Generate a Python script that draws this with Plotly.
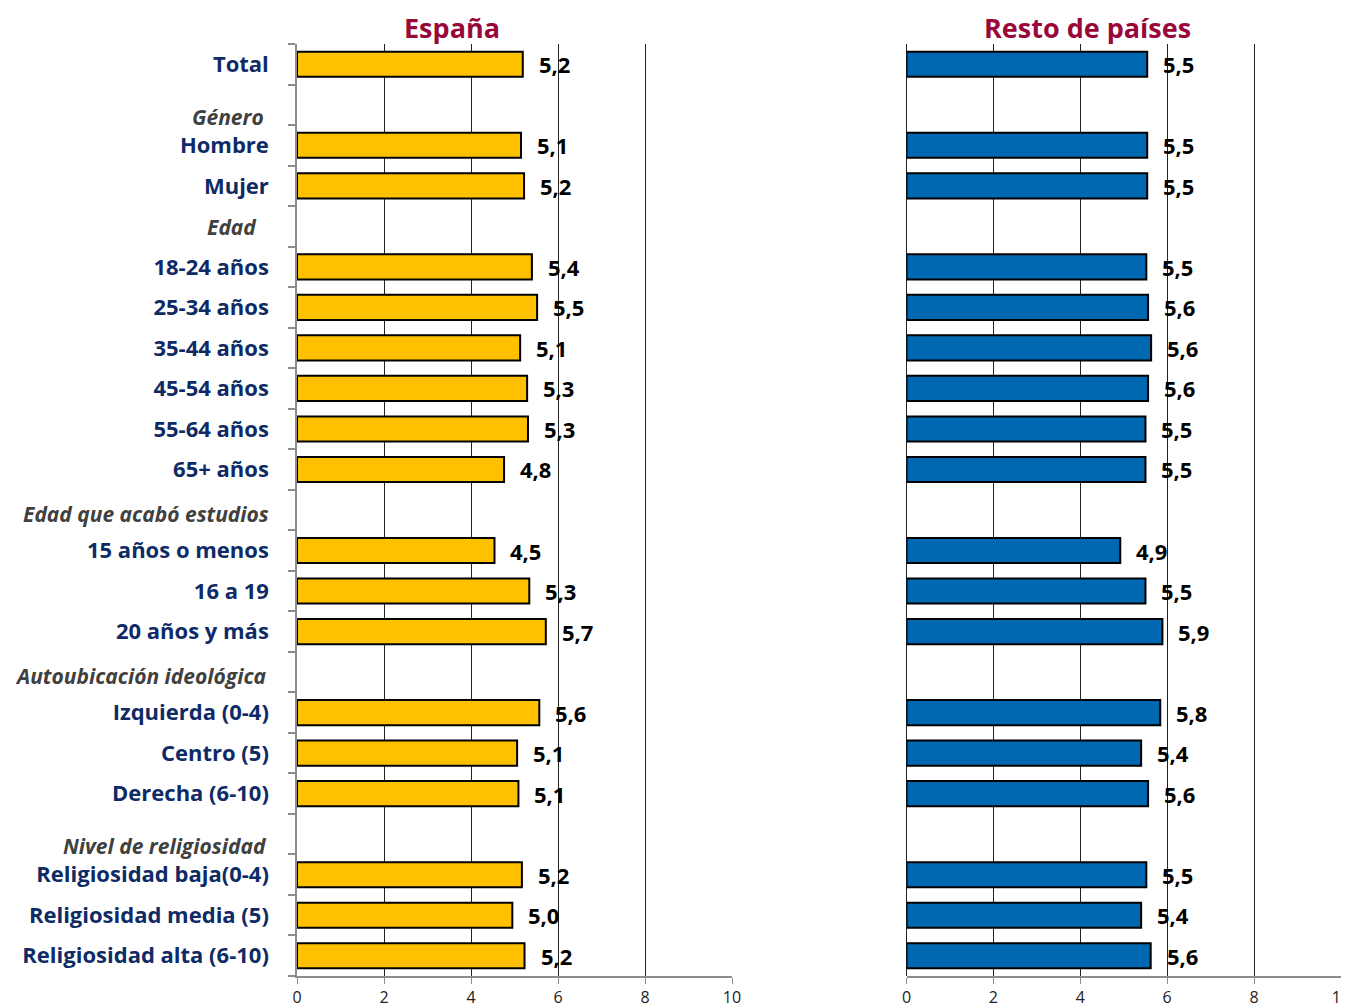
import plotly.graph_objects as go

# Rows, top to bottom ("" = blank row used for a section header)
categories = ["Total", "", "Hombre", "Mujer", "",
              "18-24 años", "25-34 años", "35-44 años", "45-54 años", "55-64 años", "65+ años", "",
              "15 años o menos", "16 a 19", "20 años y más", "",
              "Izquierda (0-4)", "Centro (5)", "Derecha (6-10)", "",
              "Religiosidad baja(0-4)", "Religiosidad media (5)", "Religiosidad alta (6-10)"]

espana = [5.19, None, 5.15, 5.22, None,
          5.40, 5.52, 5.13, 5.29, 5.31, 4.76, None,
          4.54, 5.34, 5.72, None,
          5.57, 5.06, 5.09, None,
          5.17, 4.95, 5.23]
espana_txt = ["5,2", "", "5,1", "5,2", "",
              "5,4", "5,5", "5,1", "5,3", "5,3", "4,8", "",
              "4,5", "5,3", "5,7", "",
              "5,6", "5,1", "5,1", "",
              "5,2", "5,0", "5,2"]

resto = [5.54, None, 5.54, 5.54, None,
         5.52, 5.56, 5.63, 5.56, 5.50, 5.50, None,
         4.92, 5.50, 5.89, None,
         5.84, 5.40, 5.56, None,
         5.52, 5.40, 5.62]
resto_txt = ["5,5", "", "5,5", "5,5", "",
             "5,5", "5,6", "5,6", "5,6", "5,5", "5,5", "",
             "4,9", "5,5", "5,9", "",
             "5,8", "5,4", "5,6", "",
             "5,5", "5,4", "5,6"]

# section headers
header_txt = ["Género", "Edad", "Edad que acabó estudios", "Autoubicación ideológica", "Nivel de religiosidad"]

x_ticks = [0, 2, 4, 6, 8, 10]

FONT = "Open Sans"
NAVY = "#0f2b66"
rows = list(range(len(categories)))

# the page body adds an 8px margin, so the figure is a little smaller than the window
W, H = 1341, 999
# where each header sits: (row position, right edge in px)
header_pos = [(1.3, 258), (4.02, 251), (11.1, 263), (15.1, 261), (19.3, 261)]

fig = go.Figure()

fig.add_trace(go.Bar(y=rows, x=espana, orientation="h", width=0.62,
                     marker=dict(color="#ffc000", line=dict(color="black", width=2)),
                     xaxis="x", yaxis="y", showlegend=False, hoverinfo="skip"))
fig.add_trace(go.Bar(y=rows, x=resto, orientation="h", width=0.62,
                     marker=dict(color="#0067b1", line=dict(color="black", width=2)),
                     xaxis="x2", yaxis="y2", showlegend=False, hoverinfo="skip"))

annotations = []
lab_font = dict(family=FONT, size=22, color="black", weight="bold")
for i in rows:
    if espana[i] is not None:
        annotations.append(dict(x=espana[i], y=i, xref="x", yref="y", text=espana_txt[i],
                                xanchor="left", yanchor="middle", xshift=14,
                                showarrow=False, font=lab_font))
    if resto[i] is not None:
        annotations.append(dict(x=resto[i], y=i, xref="x2", yref="y2", text=resto_txt[i],
                                xanchor="left", yanchor="middle", xshift=14,
                                showarrow=False, font=lab_font))

for txt, (pos, right) in zip(header_txt, header_pos):
    annotations.append(dict(x=right / W, y=pos, xref="paper", yref="y", text="<i>" + txt + "</i>",
                            xanchor="right", yanchor="middle", showarrow=False,
                            font=dict(family=FONT, size=21, color="#404040", weight="bold")))

title_font = dict(family=FONT, size=27, color="#990838", weight="bold")
title_y = 1 + 36 / 932
annotations.append(dict(x=444 / W, y=title_y, xref="paper", yref="paper", text="España", borderpad=0,
                        showarrow=False, xanchor="center", yanchor="top", font=title_font))
annotations.append(dict(x=1079 / W, y=title_y, xref="paper", yref="paper", text="Resto de países", borderpad=0,
                        showarrow=False, xanchor="center", yanchor="top", font=title_font))

xaxis_common = dict(tickvals=x_ticks, showgrid=True, gridcolor="#222222", gridwidth=1,
                    showline=True, linecolor="#8c8c8c", linewidth=1.5, ticks="outside",
                    tickcolor="#8c8c8c", ticklen=6, tickfont=dict(family=FONT, size=16, color="#222222"),
                    ticklabeloverflow="allow", automargin=False)

boundaries = [i - 0.5 for i in range(len(categories) + 1)]

fig.update_layout(
    width=W, height=H,
    margin=dict(l=0, r=0, t=36, b=31),
    plot_bgcolor="white", paper_bgcolor="white",
    xaxis=dict(xaxis_common, range=[0, 10], domain=[289 / W, 724 / W], anchor="y", zeroline=False),
    xaxis2=dict(xaxis_common, range=[0, 10], domain=[898.5 / W, 1333 / W], anchor="y2", zeroline=True,
                zerolinecolor="#222222", zerolinewidth=1),
    yaxis=dict(range=[22.5, -0.5], domain=[0, 1], anchor="x", tickvals=rows, ticktext=categories,
               ticks="", ticklabelstandoff=22, showgrid=False, zeroline=False, automargin=False,
               showline=True, linecolor="#8c8c8c", linewidth=1.5,
               tickfont=dict(family=FONT, size=22, color=NAVY, weight="bold"),
               minor=dict(tickvals=boundaries, ticks="outside", ticklen=7, tickcolor="#8c8c8c", tickwidth=1.5)),
    yaxis2=dict(range=[22.5, -0.5], domain=[0, 1], anchor="x2", showticklabels=False, automargin=False,
                ticks="", showgrid=False, zeroline=False, showline=False),
    annotations=annotations,
)

# page is a few px taller than the window: hide the scrollbar so the right edge is not cut
fig.write_html("out.html",
               post_script="document.documentElement.style.overflow='hidden';"
                           "document.body.style.overflow='hidden';")
